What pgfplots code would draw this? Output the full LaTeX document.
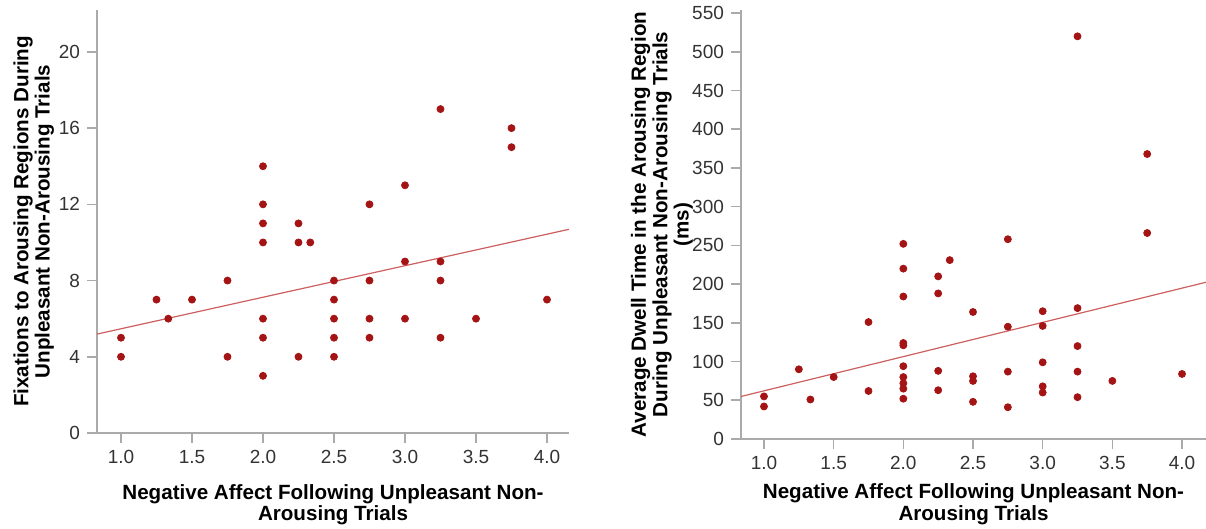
\documentclass[border=0pt]{standalone}
\usepackage{fontspec}
\setmainfont{Liberation Sans}
\usepackage{pgfplots}
\pgfplotsset{compat=1.18}
\definecolor{dotred}{RGB}{165,20,20}
\definecolor{fitred}{RGB}{205,95,95}
\definecolor{axgray}{RGB}{170,170,170}
\pgfplotsset{
  mystyle/.style={
    scale only axis,
    anchor=south west,
    axis lines=left,
    axis line style={-, axgray, line width=1pt},
    tick align=outside,
    major tick length=5pt,
    tick style={axgray, line width=0.8pt},
    tick label style={font=\fontsize{9.5}{10}\selectfont, text=black!80},
    /pgf/number format/assume math mode=true,
    xtick={1,1.5,...,4},
    xticklabel style={/pgf/number format/.cd, fixed, fixed zerofill, precision=1},
    xlabel style={font=\bfseries\fontsize{10.3}{9.3}\selectfont, align=center, inner sep=0pt, anchor=north},
    ylabel style={font=\bfseries\fontsize{10.3}{9.5}\selectfont, align=center, inner sep=0pt, rotate=0, anchor=center},
    clip=false,
  },
  dots/.style={only marks, mark=*, mark size=1.75pt, mark options={draw=dotred, fill=dotred}},
  fit/.style={no marks, fitred, line width=0.6pt},
}
\begin{document}
\begin{tikzpicture}
\path[use as bounding box] (0,0) rectangle (603pt,264.5pt);
\begin{axis}[mystyle,
  at={(48.5pt,48pt)}, width=236pt, height=211.5pt,
  xmin=0.831, xmax=4.155, ymin=0, ymax=22.2,
  ytick={0,4,...,20},
  xlabel={Negative Affect Following Unpleasant Non-\\Arousing Trials},
  xlabel style={at={(axis description cs:0.5,-0.12)}},
  ylabel={Fixations to Arousing Regions During\\Unpleasant Non-Arousing Trials},
  ylabel style={at={(axis description cs:-0.134,0.5)}},
]
\addplot[dots] coordinates {
(1.0,5) (1.0,4) (1.25,7) (1.333,6) (1.5,7) (1.75,8) (1.75,4)
(2.0,14) (2.0,12) (2.0,11) (2.0,10) (2.0,6) (2.0,5) (2.0,3)
(2.25,11) (2.25,10) (2.25,4) (2.333,10)
(2.5,8) (2.5,7) (2.5,6) (2.5,5) (2.5,4)
(2.75,12) (2.75,8) (2.75,6) (2.75,5)
(3.0,13) (3.0,9) (3.0,6)
(3.25,17) (3.25,9) (3.25,8) (3.25,5)
(3.5,6) (3.75,16) (3.75,15) (4.0,7)
};
\addplot[fit] coordinates {(0.831,5.19) (4.155,10.69)};
\end{axis}
\begin{axis}[mystyle,
  at={(370.5pt,45pt)}, width=232.5pt, height=214.5pt,
  xmin=0.835, xmax=4.172, ymin=0, ymax=554,
  ytick={0,50,...,550},
  xlabel={Negative Affect Following Unpleasant Non-\\Arousing Trials},
  xlabel style={at={(axis description cs:0.5,-0.104)}},
  ylabel={Average Dwell Time in the Arousing Region\\During Unpleasant Non-Arousing Trials\\(ms)},
  ylabel style={at={(axis description cs:-0.17,0.5)}},
]
\addplot[dots] coordinates {
(1.0,55) (1.0,42) (1.25,90) (1.333,51) (1.5,80) (1.75,151) (1.75,62)
(2.0,252) (2.0,220) (2.0,184) (2.0,124) (2.0,121) (2.0,94) (2.0,80) (2.0,72) (2.0,65) (2.0,52)
(2.25,210) (2.25,188) (2.25,88) (2.25,63) (2.333,231)
(2.5,164) (2.5,81) (2.5,75) (2.5,48)
(2.75,258) (2.75,145) (2.75,87) (2.75,41)
(3.0,165) (3.0,146) (3.0,99) (3.0,68) (3.0,60)
(3.25,520) (3.25,169) (3.25,120) (3.25,87) (3.25,54)
(3.5,75) (3.75,368) (3.75,266) (4.0,84)
};
\addplot[fit] coordinates {(0.835,54.9) (4.172,202.4)};
\end{axis}
\end{tikzpicture}
\end{document}
